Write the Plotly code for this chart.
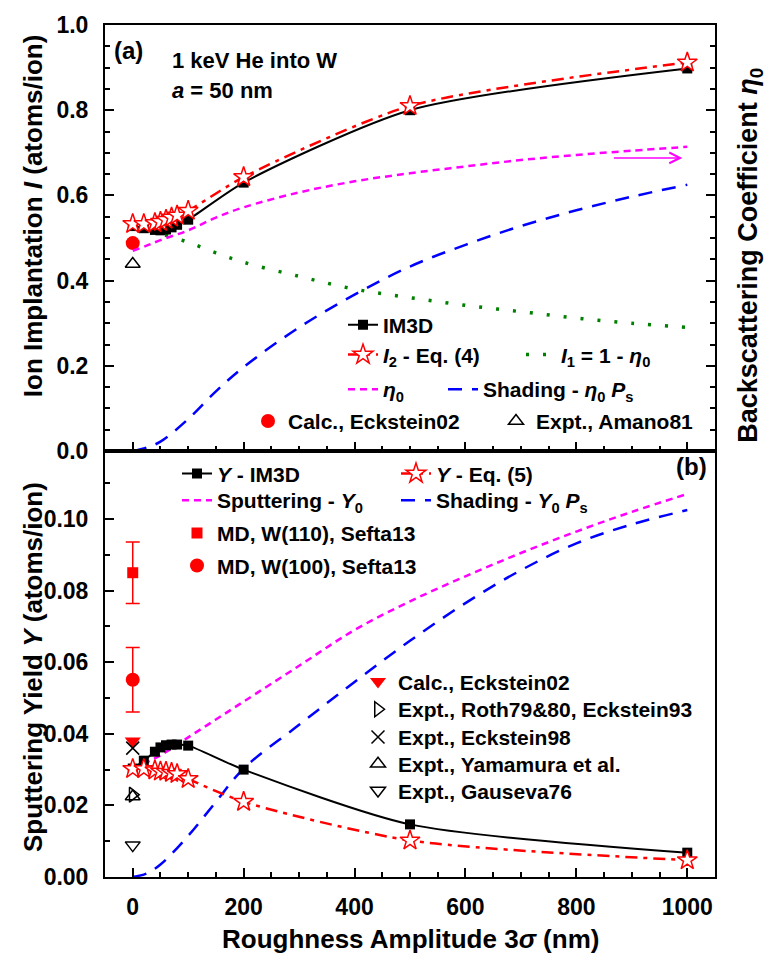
import plotly.graph_objects as go

# ---------------- data ----------------
x_sim = [0, 20, 40, 50, 60, 70, 80, 100, 200, 500, 1000]
I_im3d = [0.528, 0.523, 0.519, 0.518, 0.520, 0.525, 0.531, 0.543, 0.630, 0.800, 0.898]
I_eq4 = [0.533, 0.533, 0.535, 0.538, 0.543, 0.548, 0.553, 0.564, 0.643, 0.810, 0.912]

x_fit = [0, 25, 50, 100, 150, 200, 300, 400, 500, 600, 700, 800, 900, 1000]
eta0 = [0.470, 0.482, 0.495, 0.518, 0.548, 0.572, 0.607, 0.633, 0.652, 0.668, 0.683, 0.695, 0.705, 0.714]
I1 = [0.530, 0.520, 0.510, 0.490, 0.465, 0.443, 0.410, 0.380, 0.360, 0.342, 0.327, 0.312, 0.300, 0.290]
shade_eta = [0.0, 0.008, 0.022, 0.075, 0.140, 0.197, 0.290, 0.367, 0.433, 0.484, 0.528, 0.565, 0.597, 0.625]

Y_im3d = [0.0303, 0.0325, 0.0350, 0.0362, 0.0368, 0.0370, 0.0370, 0.0367, 0.0300, 0.0147, 0.0068]
Y_eq5 = [0.0302, 0.0302, 0.0298, 0.0295, 0.0294, 0.0291, 0.0288, 0.0274, 0.0210, 0.0102, 0.0047]
Y0 = [0.030, 0.032, 0.034, 0.039, 0.044, 0.049, 0.059, 0.069, 0.077, 0.084, 0.0905, 0.0965, 0.102, 0.107]
shade_Y = [0.0, 0.001, 0.0035, 0.0115, 0.021, 0.0303, 0.0425, 0.0545, 0.066, 0.0765, 0.0857, 0.0932, 0.0985, 0.1025]

x_exp = [0]
calc_eck02_I = [0.488]
amano81_I = [0.439]
md_w110 = [0.085]
md_w110_err = [0.0086]
md_w100 = [0.0551]
md_w100_err = [0.009]
calc_eck02_Y = [0.038]
roth_Y = [0.023]
eck98_Y = [0.036]
yamamura_Y = [0.0225]
gauseva_Y = [0.0089]

arrow_y = 0.688
arrow_x = [865, 991]

# ---------------- layout helpers ----------------
W, H = 773, 960
L, R, T, B = 105, 58, 17, 83
PW, PH = W - L - R, H - T - B
FONT = "Liberation Sans, Arial, sans-serif"
MAG, BLUE, GREEN, RED = "#ff00ff", "#0000ff", "#008000", "#ff0000"


def paper(px, py):
    return (px - L) / PW, (H - B - py) / PH


def legend_at(text_px, y_px):
    x, y = paper(text_px - 42, y_px)
    return dict(x=x, y=y, xanchor="left", yanchor="middle", bgcolor="rgba(0,0,0,0)",
                borderwidth=0, itemwidth=30, tracegroupgap=0,
                font=dict(family=FONT, size=21, color="black", weight="bold"))


fig = go.Figure()
legends = {}
nleg = [0]


def add(trace, text_px, y_px):
    nleg[0] += 1
    name = "legend" if nleg[0] == 1 else f"legend{nleg[0]}"
    legends[name] = legend_at(text_px, y_px)
    trace.update(legend=name, showlegend=True)
    fig.add_trace(trace)


def curve(color, dash, width=2.5):
    return dict(color=color, width=width, dash=dash, shape="spline", smoothing=1.0)


# ---------------- top panel ----------------
add(go.Scatter(x=x_fit, y=eta0, mode="lines", name="<i>η</i><sub>0</sub>",
               line=curve(MAG, "7px,5px"), xaxis="x", yaxis="y3"), 385, 385)
add(go.Scatter(x=x_fit, y=shade_eta, mode="lines", name="Shading - <i>η</i><sub>0</sub> <i>P</i><sub>s</sub>",
               line=curve(BLUE, "14px,10px"), xaxis="x", yaxis="y"), 485, 385)
add(go.Scatter(x=x_fit, y=I1, mode="lines", name="<i>I</i><sub>1</sub> = 1 - <i>η</i><sub>0</sub>",
               line=curve(GREEN, "3px,14px", 3.5), xaxis="x", yaxis="y"), 563, 350)
add(go.Scatter(x=x_sim, y=I_im3d, mode="lines+markers", name="IM3D",
               line=dict(color="black", width=2, shape="spline", smoothing=0.7),
               marker=dict(symbol="square", size=10, color="black"), xaxis="x", yaxis="y"), 385, 320)
add(go.Scatter(x=x_sim, y=I_eq4, mode="lines+markers", name="<i>I</i><sub>2</sub> - Eq. (4)",
               line=dict(color=RED, width=2.5, dash="12px,6px,4px,6px", shape="spline", smoothing=0.7),
               marker=dict(symbol="star", size=15, color="white", line=dict(color=RED, width=1.5)),
               xaxis="x", yaxis="y"), 385, 350)
add(go.Scatter(x=x_exp, y=calc_eck02_I, mode="markers", name="Calc., Eckstein02",
               marker=dict(symbol="circle", size=14, color=RED), xaxis="x", yaxis="y"), 290, 417)
add(go.Scatter(x=x_exp, y=amano81_I, mode="markers", name="Expt., Amano81",
               marker=dict(symbol="triangle-up-open", size=13, color="black", line=dict(width=1.5)),
               xaxis="x", yaxis="y"), 538, 417)

# ---------------- bottom panel ----------------
add(go.Scatter(x=x_fit, y=Y0, mode="lines", name="Sputtering - <i>Y</i><sub>0</sub>",
               line=curve(MAG, "7px,5px"), xaxis="x2", yaxis="y2"), 219, 497)
add(go.Scatter(x=x_fit, y=shade_Y, mode="lines", name="Shading - <i>Y</i><sub>0</sub> <i>P</i><sub>s</sub>",
               line=curve(BLUE, "14px,10px"), xaxis="x2", yaxis="y2"), 438, 497)
add(go.Scatter(x=x_sim, y=Y_im3d, mode="lines+markers", name="<i>Y</i> - IM3D",
               line=dict(color="black", width=2, shape="spline", smoothing=0.7),
               marker=dict(symbol="square", size=10, color="black"), xaxis="x2", yaxis="y2"), 219, 470)
add(go.Scatter(x=x_sim, y=Y_eq5, mode="lines+markers", name="<i>Y</i> - Eq. (5)",
               line=dict(color=RED, width=2.5, dash="12px,6px,4px,6px", shape="spline", smoothing=0.7),
               marker=dict(symbol="star", size=15, color="white", line=dict(color=RED, width=1.5)),
               xaxis="x2", yaxis="y2"), 438, 470)
add(go.Scatter(x=x_exp, y=md_w110, mode="markers", name="MD, W(110), Sefta13",
               marker=dict(symbol="square", size=11, color=RED),
               error_y=dict(type="data", array=md_w110_err, color=RED, thickness=1.5, width=7),
               xaxis="x2", yaxis="y2"), 219, 530)
add(go.Scatter(x=x_exp, y=md_w100, mode="markers", name="MD, W(100), Sefta13",
               marker=dict(symbol="circle", size=14, color=RED),
               error_y=dict(type="data", array=md_w100_err, color=RED, thickness=1.5, width=7),
               xaxis="x2", yaxis="y2"), 219, 563)
add(go.Scatter(x=x_exp, y=calc_eck02_Y, mode="markers", name="Calc., Eckstein02",
               marker=dict(symbol="triangle-down", size=14, color=RED), xaxis="x2", yaxis="y2"), 400, 680)
add(go.Scatter(x=x_exp, y=roth_Y, mode="markers", name="Expt., Roth79&80, Eckstein93",
               marker=dict(symbol="triangle-right-open", size=13, color="black", line=dict(width=1.5)),
               xaxis="x2", yaxis="y2"), 400, 708)
add(go.Scatter(x=x_exp, y=eck98_Y, mode="markers", name="Expt., Eckstein98",
               marker=dict(symbol="x-thin-open", size=13, color="black", line=dict(width=1.5, color="black")),
               xaxis="x2", yaxis="y2"), 400, 736)
add(go.Scatter(x=x_exp, y=yamamura_Y, mode="markers", name="Expt., Yamamura et al.",
               marker=dict(symbol="triangle-up-open", size=13, color="black", line=dict(width=1.5)),
               xaxis="x2", yaxis="y2"), 400, 763)
add(go.Scatter(x=x_exp, y=gauseva_Y, mode="markers", name="Expt., Gauseva76",
               marker=dict(symbol="triangle-down-open", size=13, color="black", line=dict(width=1.5)),
               xaxis="x2", yaxis="y2"), 400, 790)

# ---------------- axes ----------------
tickfont = dict(family=FONT, size=23, color="black", weight="bold")
common = dict(showline=True, linewidth=2, linecolor="black", mirror=True, showgrid=False,
              zeroline=False, ticks="inside", ticklen=9, tickwidth=2, tickcolor="black",
              tickfont=tickfont)
xcommon = dict(common, range=[-50, 1050], dtick=200, tick0=0, ticklabelstandoff=8,
               minor=dict(ticks="inside", ticklen=5, tickwidth=2, tickcolor="black", dtick=50, tick0=0))

fig.update_layout(
    width=W, height=H, margin=dict(l=L, r=R, t=T, b=B),
    plot_bgcolor="white", paper_bgcolor="white",
    font=dict(family=FONT, size=21, color="black", weight="bold"),
    xaxis=dict(xcommon, domain=[0, 1], anchor="y", showticklabels=False),
    yaxis=dict(common, domain=[0.5, 1], anchor="x", range=[0, 1], dtick=0.2, tick0=0,
               tickformat=".1f", ticklabelstandoff=10,
               minor=dict(ticks="inside", ticklen=5, tickwidth=2, tickcolor="black", dtick=0.05, tick0=0)),
    yaxis3=dict(overlaying="y", side="right", anchor="x", range=[0, 1], dtick=0.2, tick0=0,
                showticklabels=False, showgrid=False, zeroline=False, showline=False,
                ticks="inside", ticklen=9, tickwidth=2, tickcolor="black",
                minor=dict(ticks="inside", ticklen=5, tickwidth=2, tickcolor="black", dtick=0.05, tick0=0)),
    xaxis2=dict(xcommon, domain=[0, 1], anchor="y2", showticklabels=True),
    yaxis2=dict(common, domain=[0, 0.5], anchor="x2", range=[0, 0.119], dtick=0.02, tick0=0,
                tickformat=".2f", ticklabelstandoff=10,
                minor=dict(ticks="inside", ticklen=5, tickwidth=2, tickcolor="black", dtick=0.01, tick0=0)),
    showlegend=True,
    **legends,
)

# ---------------- text & arrow ----------------
tf = dict(family=FONT, color="black", weight="bold")
ann = []


def title(text, px, py, angle, size=26):
    x, y = paper(px, py)
    ann.append(dict(x=x, y=y, xref="paper", yref="paper", text=text, textangle=angle,
                    xanchor="center", yanchor="middle", showarrow=False, font=dict(tf, size=size)))


title("Ion Implantation <i>I</i> (atoms/ion)", 33, 210, -90)
title("Sputtering Yield <i>Y</i> (atoms/ion)", 33, 665, -90)
title("Backscattering Coefficient <i>η</i><sub>0</sub>", 750, 250, -90, 27)
title("Roughness Amplitude 3<i>σ</i> (nm)", 410, 940, 0)

ann.append(dict(x=-37, y=0.94, xref="x", yref="y", text="(a)", xanchor="left", yanchor="middle",
                showarrow=False, font=dict(tf, size=24)))
ann.append(dict(x=67, y=0.916, xref="x", yref="y", text="1 keV He into W", xanchor="left",
                yanchor="middle", showarrow=False, font=dict(tf, size=22)))
ann.append(dict(x=67, y=0.847, xref="x", yref="y", text="<i>a</i> = 50 nm", xanchor="left",
                yanchor="middle", showarrow=False, font=dict(tf, size=22)))
ann.append(dict(x=1040, y=0.1147, xref="x2", yref="y2", text="(b)", xanchor="right", yanchor="middle",
                showarrow=False, font=dict(tf, size=24)))
ann.append(dict(x=arrow_x[1], y=arrow_y, xref="x", yref="y3", ax=arrow_x[0], ay=arrow_y,
                axref="x", ayref="y3", showarrow=True, arrowhead=5, arrowsize=1.4,
                arrowwidth=1.5, arrowcolor=MAG, text=""))
fig.update_layout(annotations=ann)

fig.write_html("out.html")
